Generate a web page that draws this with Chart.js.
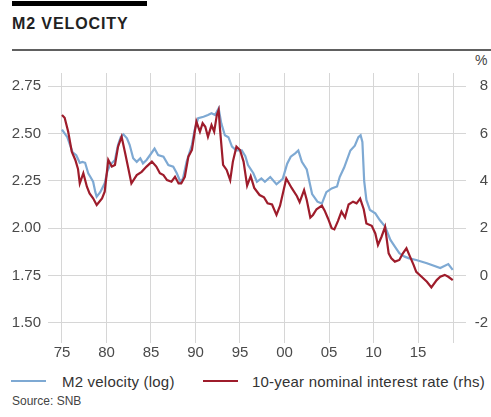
<!DOCTYPE html>
<html><head><meta charset="utf-8">
<script src="https://cdn.jsdelivr.net/npm/chart.js@4.4.1/dist/chart.umd.min.js"></script>
<style>
html,body{margin:0;padding:0;background:#fff;width:491px;height:417px;overflow:hidden;font-family:"Liberation Sans",Arial,sans-serif;}
#bar{position:absolute;left:12px;top:1px;width:135px;height:5px;background:#000;}
#title{position:absolute;left:12px;top:16px;font-weight:bold;font-size:16px;line-height:16px;letter-spacing:0.9px;color:#222;white-space:nowrap;}
#rule{position:absolute;left:12px;top:49px;width:479px;height:2px;background:#606060;}
#pct{position:absolute;left:475px;top:53px;font-size:14px;line-height:14px;color:#444;}
canvas{position:absolute;left:0;top:0;}
.leg{position:absolute;top:374px;font-size:15px;line-height:15px;color:#333;white-space:nowrap;letter-spacing:0.2px;}
.sw{position:absolute;top:380px;height:2px;width:35px;}
#src{position:absolute;left:12px;top:395px;font-size:12px;line-height:12px;color:#444;}
</style></head>
<body>
<div id="bar"></div>
<div id="title">M2 VELOCITY</div>
<div id="rule"></div>
<div id="pct">%</div>
<canvas id="c" width="491" height="370"></canvas>
<div class="sw" style="left:11px;background:#7ea9d3;"></div>
<div class="leg" style="left:62px;">M2 velocity (log)</div>
<div class="sw" style="left:203px;background:#9e1c2b;"></div>
<div class="leg" style="left:252px;">10-year nominal interest rate (rhs)</div>
<div id="src">Source: SNB</div>
<script>
const yearLabels = ['75','80','85','90','95','00','05','10','15'];
const tickYears = [1975,1980,1985,1990,1995,2000,2005,2010,2015];
const leftTicks = [1.5,1.75,2.0,2.25,2.5,2.75];
const rightTicks = [-2,0,2,4,6,8];

const m2Dates = [1975.0,1975.3,1975.6,1975.9,1976.2,1976.6,1977.0,1977.3,1977.6,1977.95,1978.2,1978.5,1978.75,1978.9,1979.3,1979.8,1980.1,1980.4,1980.95,1981.3,1981.6,1981.9,1982.3,1982.6,1983.0,1983.4,1983.8,1984.1,1984.5,1984.9,1985.4,1985.8,1986.4,1986.95,1987.5,1987.9,1988.3,1988.6,1989.0,1989.6,1989.9,1990.3,1990.9,1991.4,1991.8,1992.2,1992.6,1992.9,1993.3,1993.7,1994.1,1994.6,1995.2,1995.6,1995.9,1996.5,1996.9,1997.4,1997.8,1998.4,1999.1,1999.8,2000.3,2000.7,2001.2,2001.55,2001.95,2002.5,2003.1,2003.7,2004.2,2004.7,2005.3,2005.9,2006.2,2006.7,2007.4,2007.9,2008.3,2008.55,2008.75,2008.95,2009.2,2009.6,2010.2,2010.7,2011.3,2011.9,2012.4,2012.9,2013.5,2014.0,2014.8,2016.0,2017.5,2018.4,2018.9];
const m2Values = [2.52,2.50,2.48,2.44,2.40,2.385,2.345,2.35,2.345,2.29,2.27,2.245,2.19,2.166,2.19,2.237,2.30,2.333,2.36,2.44,2.48,2.495,2.474,2.44,2.369,2.35,2.369,2.342,2.36,2.386,2.42,2.386,2.377,2.333,2.324,2.29,2.245,2.263,2.35,2.44,2.518,2.58,2.588,2.597,2.606,2.597,2.632,2.553,2.49,2.48,2.43,2.41,2.41,2.38,2.333,2.29,2.245,2.263,2.245,2.27,2.232,2.26,2.34,2.377,2.395,2.41,2.35,2.31,2.18,2.14,2.13,2.19,2.21,2.22,2.27,2.32,2.41,2.435,2.48,2.49,2.455,2.25,2.149,2.096,2.078,2.043,2.008,1.938,1.903,1.868,1.85,1.841,1.832,1.815,1.79,1.811,1.78];

const rateDates = [1975.0,1975.3,1975.7,1976.1,1976.5,1976.8,1977.0,1977.4,1977.8,1978.1,1978.5,1978.9,1979.5,1979.8,1980.2,1980.6,1980.95,1981.3,1981.7,1982.1,1982.45,1982.8,1983.4,1983.95,1984.5,1985.1,1985.6,1986.0,1986.4,1986.8,1987.3,1987.7,1988.1,1988.4,1988.8,1989.2,1989.6,1990.1,1990.5,1990.8,1991.1,1991.4,1991.8,1992.1,1992.4,1992.6,1992.75,1993.1,1993.5,1993.9,1994.2,1994.6,1995.0,1995.4,1995.8,1996.2,1996.6,1997.2,1997.7,1998.1,1998.6,1999.1,1999.5,2000.2,2000.8,2001.4,2001.7,2002.2,2002.5,2002.9,2003.2,2003.6,2004.2,2004.5,2004.9,2005.3,2005.6,2006.0,2006.4,2006.8,2007.2,2007.7,2008.1,2008.5,2008.9,2009.2,2009.8,2010.2,2010.5,2010.9,2011.3,2011.7,2012.0,2012.4,2012.9,2013.3,2013.7,2014.1,2014.5,2014.8,2015.4,2016.0,2016.5,2017.1,2017.5,2018.0,2018.4,2018.9];
const rateValues = [6.78,6.66,6.07,5.23,4.88,4.5,3.89,4.32,3.75,3.47,3.26,2.98,3.26,3.54,4.88,4.6,4.67,5.44,5.86,5.16,4.53,3.89,4.24,4.38,4.6,4.81,4.6,4.32,4.24,4.03,3.96,4.17,3.89,3.89,4.17,5.02,5.3,6.5,6.07,6.43,6.28,5.86,6.35,6.07,6.78,6.99,6.2,4.67,4.46,4.03,4.81,5.44,5.3,4.81,3.8,4.2,3.7,3.4,3.3,3.05,3.0,2.56,2.95,4.1,3.7,3.35,3.1,3.61,3.19,2.45,2.56,2.8,2.95,2.75,2.4,2.0,1.95,2.3,2.7,2.45,3.0,3.12,3.05,3.25,2.8,2.2,2.1,1.78,1.29,1.64,2.06,0.94,0.73,0.59,0.66,0.94,1.15,0.8,0.45,0.16,-0.05,-0.26,-0.5,-0.19,-0.05,0.03,-0.05,-0.19];

const toPts = (xs, ys) => xs.map((x, i) => ({x: x, y: ys[i]}));
const gridColor = '#d6d6d6';
const tickFont = {family: '"Liberation Sans", Arial, sans-serif', size: 15};
const tickColor = '#4a4a4a';

new Chart(document.getElementById('c'), {
  type: 'line',
  data: {
    datasets: [
      {label: 'M2 velocity (log)', data: toPts(m2Dates, m2Values), yAxisID: 'y', borderColor: '#7ea9d3', borderWidth: 2.2, pointRadius: 0, tension: 0, order: 2},
      {label: '10-year nominal interest rate (rhs)', data: toPts(rateDates, rateValues), yAxisID: 'y1', borderColor: '#9e1c2b', borderWidth: 2.2, pointRadius: 0, tension: 0, order: 1}
    ]
  },
  options: {
    responsive: false, animation: false, devicePixelRatio: 1,
    layout: {padding: {top: 73, right: 3, left: 0, bottom: 0}},
    plugins: {legend: {display: false}, tooltip: {enabled: false}},
    scales: {
      x: {
        type: 'linear', min: 1973.43, max: 2020.39,
        afterBuildTicks: s => { s.ticks = tickYears.concat([2019]).map(v => ({value: v})); },
        afterFit: s => { s.height = 27; },
        grid: {color: gridColor, drawTicks: false, lineWidth: 1},
        border: {display: false},
        ticks: {autoSkip: false, maxRotation: 0, padding: 1, font: tickFont, color: tickColor,
          callback: v => { const i = tickYears.indexOf(v); return i >= 0 ? yearLabels[i] : ''; }}
      },
      y: {
        position: 'left', min: 1.3945, max: 2.8186,
        afterBuildTicks: s => { s.ticks = leftTicks.map(v => ({value: v})); },
        afterFit: s => { s.width = 48; },
        grid: {color: gridColor, drawTicks: false, lineWidth: 1},
        border: {display: false},
        ticks: {padding: 7, font: tickFont, color: tickColor, callback: v => v.toFixed(2)}
      },
      y1: {
        position: 'right', min: -2.844, max: 8.549,
        afterBuildTicks: s => { s.ticks = rightTicks.map(v => ({value: v})); },
        afterFit: s => { s.width = 22; },
        grid: {drawOnChartArea: false, drawTicks: false},
        border: {display: false},
        ticks: {crossAlign: 'far', padding: 8, font: tickFont, color: tickColor, callback: v => String(v)}
      }
    }
  }
});
</script>
</body></html>
